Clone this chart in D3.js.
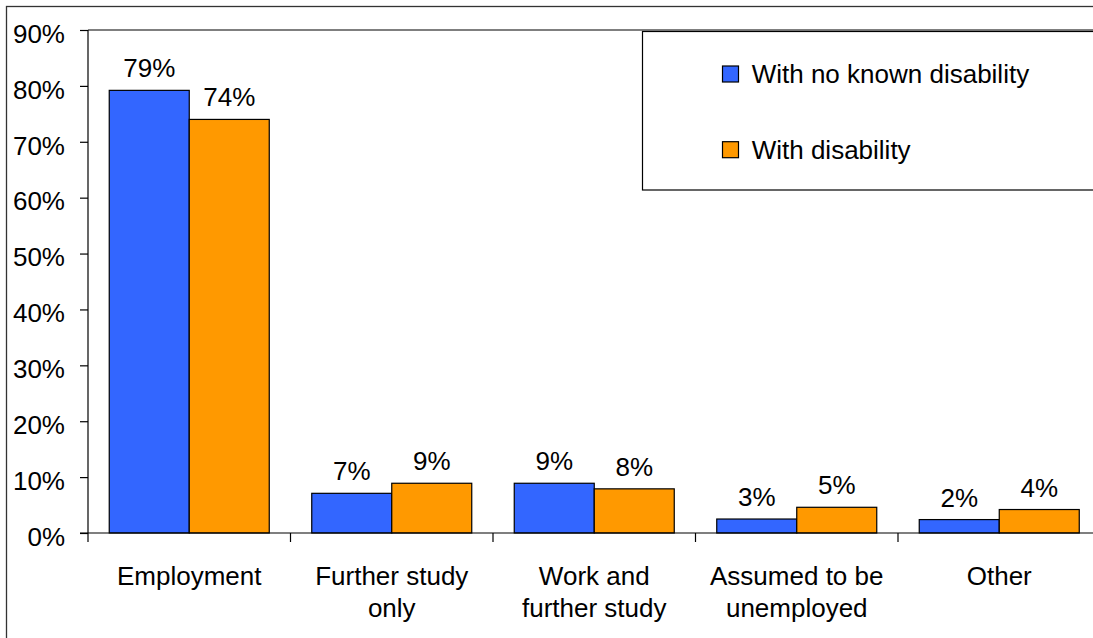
<!DOCTYPE html>
<html>
<head>
<meta charset="utf-8">
<script src="https://cdn.jsdelivr.net/npm/d3@7"></script>
<style>
  html, body { margin: 0; padding: 0; background: #fff; }
  svg { display: block; font-family: "Liberation Sans", Arial, sans-serif; }
</style>
</head>
<body>
<svg id="chart" width="1093" height="638"></svg>
<script>
// Destinations of graduates, by disability status (percent)
const categories = ["Employment", "Further study\nonly", "Work and\nfurther study", "Assumed to be\nunemployed", "Other"];
const seriesNames = ["With no known disability", "With disability"];
const noDisability = [79.2, 7.1, 8.9, 2.5, 2.4];
const withDisability = [74.0, 8.9, 7.9, 4.6, 4.2];
const seriesColors = ["#3366FF", "#FF9900"];
const yTicks = [0, 10, 20, 30, 40, 50, 60, 70, 80, 90];

const seriesValues = [noDisability, withDisability];

const svg = d3.select("#chart");
const W = 1093, H = 638;
const plot = { left: 88, top: 30, right: 1100.5, bottom: 533 };
const fontSize = 26;

// Outer chart border
svg.append("rect")
  .attr("x", 6.5).attr("y", 6.5)
  .attr("width", 1200).attr("height", 800)
  .attr("fill", "#fff").attr("stroke", "#333").attr("stroke-width", 1.3);

const y = d3.scaleLinear().domain([0, 90]).range([plot.bottom, plot.top]);
const x0 = d3.scaleBand().domain(categories).range([plot.left, plot.right]).padding(0);
const x1 = d3.scaleBand().domain(seriesNames).range([0, x0.bandwidth()])
  .paddingInner(0).paddingOuter(0.2656);

// Plot area top border
svg.append("line")
  .attr("x1", plot.left).attr("x2", plot.right)
  .attr("y1", plot.top).attr("y2", plot.top)
  .attr("stroke", "#555").attr("stroke-width", 1.3);

// Bars
const groups = svg.append("g").selectAll("g")
  .data(categories)
  .join("g")
  .attr("transform", d => `translate(${x0(d)},0)`);

groups.selectAll("rect")
  .data((c, i) => seriesNames.map((s, k) => ({ s, v: seriesValues[k][i], k })))
  .join("rect")
  .attr("x", d => x1(d.s))
  .attr("y", d => y(d.v))
  .attr("width", x1.bandwidth())
  .attr("height", d => y(0) - y(d.v))
  .attr("fill", d => seriesColors[d.k])
  .attr("stroke", "#000")
  .attr("stroke-width", 1.2);

// Value labels
groups.selectAll("text.val")
  .data((c, i) => seriesNames.map((s, k) => ({ s, v: seriesValues[k][i], k })))
  .join("text")
  .attr("class", "val")
  .attr("x", d => x1(d.s) + x1.bandwidth() / 2)
  .attr("y", d => y(d.v) - 13)
  .attr("text-anchor", "middle")
  .attr("font-size", fontSize)
  .attr("fill", "#000")
  .text(d => Math.round(d.v) + "%");

// Y axis
const yAxis = svg.append("g")
  .attr("transform", `translate(${plot.left},0)`)
  .call(d3.axisLeft(y).tickValues(yTicks).tickSize(8).tickPadding(15)
    .tickFormat(d => d + "%"));
yAxis.select(".domain").attr("stroke", "#000").attr("stroke-width", 1.2)
  .attr("d", `M0,${plot.bottom}V${plot.top}`);
yAxis.selectAll(".tick line").attr("stroke", "#000").attr("stroke-width", 1.2);
yAxis.selectAll(".tick text")
  .attr("font-size", fontSize).attr("font-family", null)
  .attr("fill", "#000").attr("dy", "0.47em");

// X axis: baseline, boundary ticks and category labels
const xAxis = svg.append("g")
  .attr("transform", `translate(0,${plot.bottom})`)
  .call(d3.axisBottom(x0).tickSize(0).tickPadding(0).tickFormat(""));
xAxis.select(".domain").attr("stroke", "#000").attr("stroke-width", 1.2)
  .attr("d", `M${plot.left - 8},0H${plot.right}`);

const boundaries = categories.map(c => x0(c)).concat([x0(categories[categories.length - 1]) + x0.bandwidth()]);
xAxis.selectAll("line.bound")
  .data(boundaries)
  .join("line")
  .attr("class", "bound")
  .attr("x1", d => d).attr("x2", d => d)
  .attr("y1", 0).attr("y2", 9)
  .attr("stroke", "#000").attr("stroke-width", 1.2);

xAxis.selectAll(".tick text").remove();
xAxis.selectAll(".tick").append("text")
  .attr("text-anchor", "middle")
  .attr("font-size", fontSize)
  .attr("fill", "#000")
  .attr("y", 52)
  .selectAll("tspan")
  .data(d => d.split("\n"))
  .join("tspan")
  .attr("x", 0)
  .attr("dy", (d, i) => i === 0 ? 0 : 31.7)
  .text(d => d);

// Legend
const legend = svg.append("g");
legend.append("rect")
  .attr("x", 642.5).attr("y", 31.5)
  .attr("width", 520).attr("height", 158.5)
  .attr("fill", "#fff").attr("stroke", "#000").attr("stroke-width", 1.2);

const legendRows = [{ y: 66 }, { y: 141.7 }];
const items = legend.selectAll("g.item")
  .data(seriesNames)
  .join("g")
  .attr("class", "item")
  .attr("transform", (d, i) => `translate(722.5,${legendRows[i].y})`);
items.append("rect")
  .attr("width", 16).attr("height", 16)
  .attr("fill", (d, i) => seriesColors[i])
  .attr("stroke", "#000").attr("stroke-width", 1.2);
items.append("text")
  .attr("x", 29.2).attr("y", 17.3)
  .attr("font-size", fontSize)
  .attr("fill", "#000")
  .text(d => d);
</script>
</body>
</html>
